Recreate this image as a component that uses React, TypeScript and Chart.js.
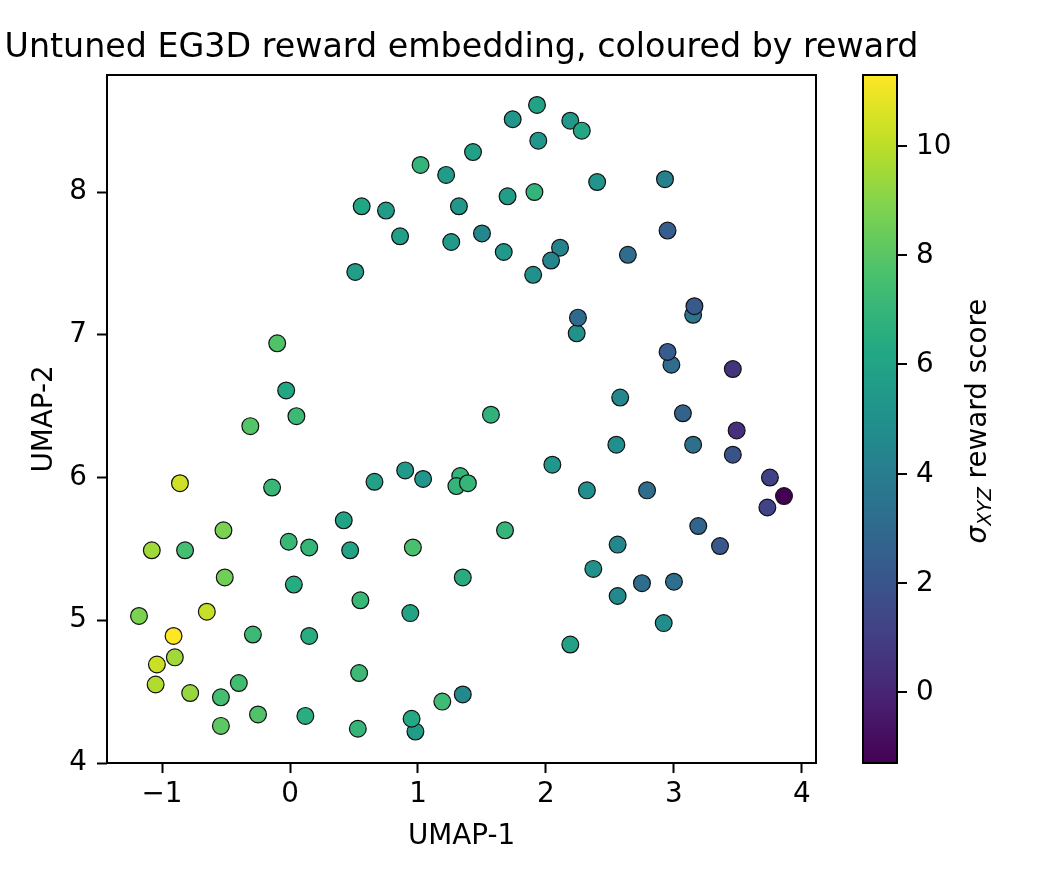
import React, { useEffect, useRef } from "react";
import { Chart, registerables } from "chart.js";

Chart.register(...registerables);

// ---------- data ----------
const UMAP1 = [
  1.93, 1.74, 2.19, 2.28, 1.94, 1.43, 1.02, 1.22, 2.40, 2.93,
  1.91, 1.70, 0.56, 0.75, 1.32, 0.86, 1.26, 1.50, 2.95, 2.11,
  1.67, 2.64, 2.04, 1.90, 0.51, 2.24, 2.25, 3.15, 3.16, 2.98,
  2.95, 3.46, 2.58, 3.07, 3.49, 2.55, 3.15, 3.46, 2.32, 2.79,
  3.75, 3.86, 3.73, 3.19, -0.10, -0.03, 0.05, -0.31, -0.86, -0.14,
  1.57, 2.05, 0.66, 0.90, 1.04, 1.33, 1.30, 1.39, -0.52, -1.08,
  -0.82, -0.01, 0.15, -0.51, 0.03, -1.18, -0.65, -0.91, -0.29, 0.15,
  -0.90, -1.04, -1.05, -0.40, -0.78, -0.54, -0.25, 0.12, -0.54, 0.42,
  1.68, 0.47, 0.96, 1.35, 0.55, 0.94, 2.19, 0.54, 1.19, 1.35,
  0.98, 0.95, 0.53, 2.56, 3.36, 2.37, 2.75, 3.00, 2.56, 2.92,
];
const UMAP2 = [
  8.61, 8.51, 8.50, 8.43, 8.36, 8.28, 8.19, 8.12, 8.07, 8.09,
  8.00, 7.97, 7.90, 7.87, 7.90, 7.69, 7.65, 7.71, 7.73, 7.61,
  7.58, 7.56, 7.52, 7.42, 7.44, 7.01, 7.12, 7.14, 7.20, 6.79,
  6.88, 6.76, 6.56, 6.45, 6.33, 6.23, 6.23, 6.16, 5.91, 5.91,
  6.00, 5.87, 5.79, 5.66, 6.94, 6.61, 6.43, 6.36, 5.96, 5.93,
  6.44, 6.09, 5.97, 6.05, 5.99, 6.01, 5.94, 5.96, 5.63, 5.49,
  5.49, 5.55, 5.51, 5.30, 5.25, 5.03, 5.06, 4.89, 4.90, 4.89,
  4.74, 4.69, 4.55, 4.56, 4.49, 4.46, 4.34, 4.33, 4.26, 5.70,
  5.63, 5.49, 5.51, 5.30, 5.14, 5.05, 4.83, 4.63, 4.43, 4.48,
  4.22, 4.31, 4.24, 5.53, 5.52, 5.36, 5.26, 5.27, 5.17, 4.98,
];
const REWARD = [
  5.9, 5.3, 5.4, 6.2, 5.3, 5.8, 6.9, 5.6, 5.2, 4.2,
  6.9, 5.7, 6.2, 5.6, 5.4, 5.8, 5.5, 4.5, 2.4, 4.3,
  5.4, 3.2, 4.4, 5.0, 5.7, 5.0, 3.0, 3.7, 2.2, 3.2,
  2.3, 0.6, 4.5, 2.7, 0.4, 4.9, 3.3, 1.9, 4.9, 3.2,
  1.1, -1.3, 1.2, 2.8, 7.8, 6.2, 7.2, 7.9, 10.4, 7.1,
  6.8, 5.3, 5.9, 5.5, 5.3, 6.9, 6.9, 7.0, 8.8, 9.5,
  7.5, 7.1, 7.0, 8.6, 6.4, 8.8, 10.2, 11.3, 7.2, 6.5,
  9.5, 10.3, 9.8, 7.4, 9.3, 7.5, 7.8, 6.6, 8.1, 6.0,
  7.0, 6.0, 7.6, 6.5, 7.1, 6.0, 5.9, 7.2, 7.3, 4.6,
  5.6, 6.3, 7.0, 4.5, 2.1, 5.0, 3.2, 3.3, 4.6, 4.8,
];

const X_TICKS = [-1, 0, 1, 2, 3, 4];
const Y_TICKS = [4, 5, 6, 7, 8];
const CB_TICKS = [0, 2, 4, 6, 8, 10];
const X_MIN = -1.43;
const X_MAX = 4.11;
const Y_MIN = 4.0;
const Y_MAX = 8.82;
const CB_MIN = -1.3;
const CB_MAX = 11.3;

const TITLE = "Untuned EG3D reward embedding, coloured by reward";
const X_LABEL = "UMAP-1";
const Y_LABEL = "UMAP-2";
const CB_SYMBOL = "σ";
const CB_SUB = "XYZ";
const CB_LABEL_REST = " reward score";

// viridis colormap samples (t = 0, 0.1, ..., 1)
const VIRIDIS: number[][] = [
  [68.1, 1.2, 84.0],
  [72.1, 35.9, 116.7],
  [64.8, 67.6, 135.1],
  [52.7, 94.8, 141.0],
  [41.7, 120.1, 142.3],
  [32.5, 144.6, 140.4],
  [34.3, 168.0, 132.0],
  [68.1, 190.9, 112.3],
  [121.8, 209.5, 81.1],
  [189.1, 222.7, 38.1],
  [253.3, 231.1, 36.7],
];

function viridis(t: number): string {
  const tt = Math.max(0, Math.min(1, t));
  const pos = tt * (VIRIDIS.length - 1);
  const i = Math.min(VIRIDIS.length - 2, Math.floor(pos));
  const f = pos - i;
  const a = VIRIDIS[i];
  const b = VIRIDIS[i + 1];
  const c = a.map((v, k) => Math.round(v + (b[k] - v) * f));
  return `rgb(${c[0]},${c[1]},${c[2]})`;
}

// ---------- layout ----------
const W = 1040;
const H = 880;
const PLOT_LEFT = 107;
const PLOT_RIGHT = 816;
const PLOT_TOP = 75;
const PLOT_BOTTOM = 763;
const CB_LEFT = 863;
const CB_RIGHT = 897;
const FONT = "'DejaVu Sans', 'Liberation Sans', sans-serif";
const TICK_SIZE = 27.8;
const TITLE_SIZE = 33.3;

const fmt = (v: number) => (v < 0 ? "\u2212" + Math.abs(v) : String(v));

const decorPlugin = {
  id: "decor",
  afterDraw(chart: any) {
    const ctx: CanvasRenderingContext2D = chart.ctx;
    const area = chart.chartArea;
    ctx.save();

    // axes frame
    ctx.strokeStyle = "#000";
    ctx.lineWidth = 2;
    ctx.strokeRect(area.left, area.top, area.right - area.left, area.bottom - area.top);

    // title
    ctx.fillStyle = "#000";
    ctx.font = `${TITLE_SIZE}px ${FONT}`;
    ctx.textAlign = "center";
    ctx.textBaseline = "alphabetic";
    ctx.fillText(TITLE, (area.left + area.right) / 2, 57);

    // x label
    ctx.font = `${TICK_SIZE}px ${FONT}`;
    ctx.fillText(X_LABEL, (area.left + area.right) / 2, 844);

    // y label
    ctx.save();
    ctx.translate(52, (area.top + area.bottom) / 2);
    ctx.rotate(-Math.PI / 2);
    ctx.fillText(Y_LABEL, 0, 0);
    ctx.restore();

    // colorbar
    const cbTop = area.top;
    const cbBottom = area.bottom;
    const grad = ctx.createLinearGradient(0, cbBottom, 0, cbTop);
    const n = 64;
    for (let i = 0; i <= n; i++) grad.addColorStop(i / n, viridis(i / n));
    ctx.fillStyle = grad;
    ctx.fillRect(CB_LEFT, cbTop, CB_RIGHT - CB_LEFT, cbBottom - cbTop);
    ctx.strokeStyle = "#000";
    ctx.lineWidth = 2;
    ctx.strokeRect(CB_LEFT, cbTop, CB_RIGHT - CB_LEFT, cbBottom - cbTop);

    const cbY = (v: number) => cbBottom - ((v - CB_MIN) / (CB_MAX - CB_MIN)) * (cbBottom - cbTop);
    ctx.fillStyle = "#000";
    ctx.font = `${TICK_SIZE}px ${FONT}`;
    ctx.textAlign = "left";
    ctx.textBaseline = "middle";
    CB_TICKS.forEach((v) => {
      const y = Math.round(cbY(v));
      ctx.beginPath();
      ctx.moveTo(CB_RIGHT, y);
      ctx.lineTo(CB_RIGHT + 10, y);
      ctx.stroke();
      ctx.fillText(fmt(v), CB_RIGHT + 19, y + 1);
    });

    // colorbar label: σ_XYZ reward score
    const fSym = `italic ${TICK_SIZE}px ${FONT}`;
    const fSub = `italic ${TICK_SIZE * 0.7}px ${FONT}`;
    const fTxt = `${TICK_SIZE}px ${FONT}`;
    ctx.font = fSym;
    const w1 = ctx.measureText(CB_SYMBOL).width;
    ctx.font = fSub;
    const w2 = ctx.measureText(CB_SUB).width;
    ctx.font = fTxt;
    const w3 = ctx.measureText(CB_LABEL_REST).width;
    const total = w1 + w2 + w3;
    ctx.save();
    ctx.translate(986, (cbTop + cbBottom) / 2 + 2);
    ctx.rotate(-Math.PI / 2);
    ctx.textAlign = "left";
    ctx.textBaseline = "alphabetic";
    let x = -total / 2;
    ctx.font = fSym;
    ctx.fillText(CB_SYMBOL, x, 0);
    x += w1;
    ctx.font = fSub;
    ctx.fillText(CB_SUB, x, 5);
    x += w2;
    ctx.font = fTxt;
    ctx.fillText(CB_LABEL_REST, x, 0);
    ctx.restore();

    ctx.restore();
  },
};

export default function App() {
  const canvasRef = useRef<HTMLCanvasElement | null>(null);

  useEffect(() => {
    document.body.style.margin = "0";
    const canvas = canvasRef.current;
    if (!canvas) return;

    const points = UMAP1.map((x, i) => ({ x, y: UMAP2[i] }));
    const colors = REWARD.map((v) => viridis((v - CB_MIN) / (CB_MAX - CB_MIN)));

    const tickFont = { family: FONT, size: TICK_SIZE, lineHeight: 1 };

    const chart = new Chart(canvas, {
      type: "scatter",
      data: {
        datasets: [
          {
            data: points,
            pointBackgroundColor: colors,
            pointBorderColor: "#111",
            pointBorderWidth: 1.2,
            pointRadius: 8.4,
            pointHoverRadius: 8.4,
            showLine: false,
          },
        ],
      },
      options: {
        responsive: false,
        animation: false,
        devicePixelRatio: 1,
        events: [],
        layout: {
          padding: { left: 0, top: PLOT_TOP, right: W - PLOT_RIGHT, bottom: 0 },
        },
        plugins: {
          legend: { display: false },
          tooltip: { enabled: false },
          title: { display: false },
        },
        scales: {
          x: {
            type: "linear",
            position: "bottom",
            min: X_MIN,
            max: X_MAX,
            afterFit: (s: any) => {
              s.height = H - PLOT_BOTTOM;
            },
            afterBuildTicks: (s: any) => {
              s.ticks = X_TICKS.map((v) => ({ value: v }));
            },
            ticks: {
              color: "#000",
              font: tickFont,
              padding: 8,
              maxRotation: 0,
              autoSkip: false,
              callback: (v: any) => fmt(Number(v)),
            },
            grid: {
              display: true,
              drawOnChartArea: false,
              drawTicks: true,
              tickLength: 10,
              tickWidth: 2,
              tickColor: "#000",
            },
            border: { display: false },
          },
          y: {
            type: "linear",
            position: "left",
            min: Y_MIN,
            max: Y_MAX,
            afterFit: (s: any) => {
              s.width = PLOT_LEFT;
            },
            afterBuildTicks: (s: any) => {
              s.ticks = Y_TICKS.map((v) => ({ value: v }));
            },
            ticks: {
              color: "#000",
              font: tickFont,
              padding: 10,
              autoSkip: false,
              callback: (v: any) => fmt(Number(v)),
            },
            grid: {
              display: true,
              drawOnChartArea: false,
              drawTicks: true,
              tickLength: 10,
              tickWidth: 2,
              tickColor: "#000",
            },
            border: { display: false },
          },
        },
      },
      plugins: [decorPlugin],
    });

    return () => chart.destroy();
  }, []);

  return (
    <div style={{ position: "absolute", left: 0, top: 0, width: W, height: H, background: "#fff" }}>
      <canvas ref={canvasRef} width={W} height={H} style={{ display: "block" }} />
    </div>
  );
}
